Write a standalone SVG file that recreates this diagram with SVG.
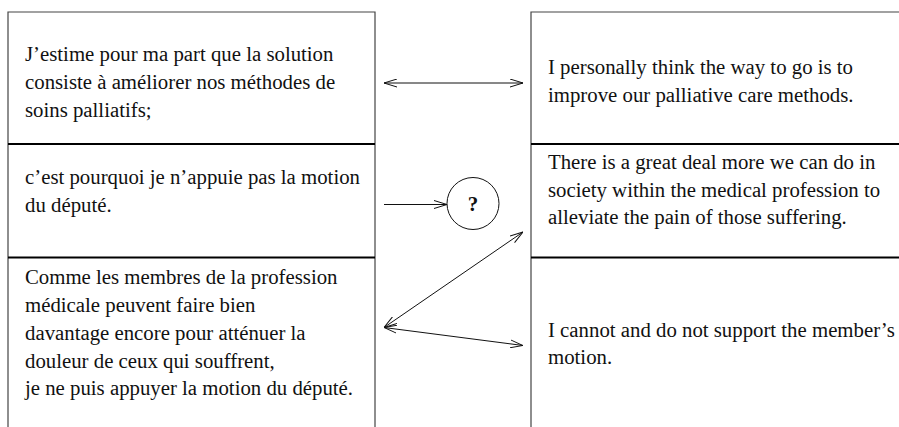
<svg xmlns="http://www.w3.org/2000/svg" width="899" height="427" viewBox="0 0 899 427">
<style>
.t{font-family:"Liberation Serif","Times New Roman",serif;font-size:20.8px;fill:#111}
.frame{fill:none;stroke:#444;stroke-width:1.2}
.div{stroke:#000;stroke-width:1.8}
.c{fill:none;stroke:#111;stroke-width:1}
</style>
<defs>
<marker id="ah" viewBox="0 0 13 9" refX="13" refY="4.5" markerWidth="13" markerHeight="9" markerUnits="userSpaceOnUse" orient="auto-start-reverse">
<path d="M0,0.5 L13,4.5 L0,8.5" fill="none" stroke="#111" stroke-width="1"/>
</marker>
</defs>
<rect width="899" height="427" fill="#fff"/>
<g id="left-col">
<path class="frame" d="M8,427 V12 H375 V427"/>
<line class="div" x1="8" y1="144" x2="375" y2="144"/>
<line class="div" x1="8" y1="257.5" x2="375" y2="257.5"/>
</g>
<g id="fr1">
<text class="t" x="25" y="60.5">J’estime pour ma part que la solution</text>
<text class="t" x="25" y="88.5">consiste à améliorer nos méthodes de</text>
<text class="t" x="25" y="116.5">soins palliatifs;</text>
</g>
<g id="fr2">
<text class="t" x="25" y="184">c’est pourquoi je n’appuie pas la motion</text>
<text class="t" x="25" y="211.7">du député.</text>
</g>
<g id="fr3">
<text class="t" x="25" y="284">Comme les membres de la profession</text>
<text class="t" x="25" y="312">médicale peuvent faire bien</text>
<text class="t" x="25" y="340">davantage encore pour atténuer la</text>
<text class="t" x="25" y="367.5">douleur de ceux qui souffrent,</text>
<text class="t" x="25" y="395">je ne puis appuyer la motion du député.</text>
</g>
<g id="right-col">
<path class="frame" d="M531,427 V12 H905"/>
<line class="div" x1="531" y1="144" x2="905" y2="144"/>
<line class="div" x1="531" y1="257.5" x2="905" y2="257.5"/>
</g>
<g id="en1">
<text class="t" x="548" y="74">I personally think the way to go is to</text>
<text class="t" x="548" y="101.7">improve our palliative care methods.</text>
</g>
<g id="en2">
<text class="t" x="548" y="169.3">There is a great deal more we can do in</text>
<text class="t" x="548" y="196.7">society within the medical profession to</text>
<text class="t" x="548" y="224.3">alleviate the pain of those suffering.</text>
</g>
<g id="en3">
<text class="t" x="548" y="337.3">I cannot and do not support the member’s</text>
<text class="t" x="548" y="364.3">motion.</text>
</g>
<g id="q">
<circle cx="473" cy="203.5" r="26" fill="#fff" stroke="#111" stroke-width="1"/>
<text x="473" y="211" text-anchor="middle" style="font-family:'Liberation Serif','Times New Roman',serif;font-size:21px;font-weight:bold;fill:#111">?</text>
</g>
<g id="connectors">
<line class="c" x1="384" y1="83" x2="523" y2="83" marker-start="url(#ah)" marker-end="url(#ah)"/>
<line class="c" x1="384" y1="204.5" x2="447" y2="204.5" marker-end="url(#ah)"/>
<line class="c" x1="384" y1="327.5" x2="523" y2="232" marker-start="url(#ah)" marker-end="url(#ah)"/>
<line class="c" x1="384" y1="327.5" x2="523" y2="345.5" marker-start="url(#ah)" marker-end="url(#ah)"/>
</g>
</svg>
